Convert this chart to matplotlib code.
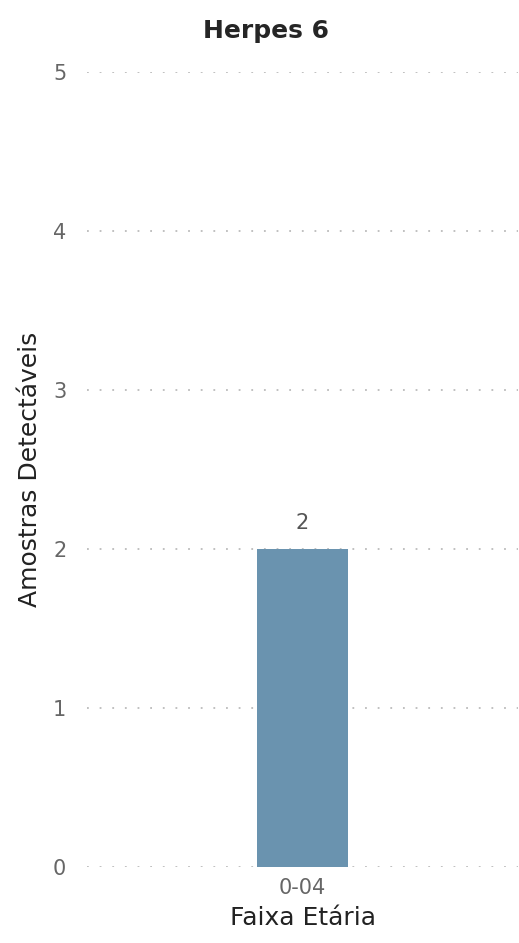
import matplotlib.pyplot as plt

plt.rcParams["font.family"] = ["DejaVu Sans"]

# data
categories = ["0-04"]
values = [2]
bar_color = "#6A93AF"

fig = plt.figure(figsize=(5.19, 9.43), dpi=100)
ax = fig.add_axes([0.168, 0.0806, 0.83, 0.843])

ax.bar(range(len(categories)), values, width=0.21, color=bar_color, zorder=3)
for i, v in enumerate(values):
    ax.text(i, v + 0.1, str(v), ha="center", va="bottom", fontsize=15, color="#555555")

ax.set_xlim(-0.5, 0.5)
ax.set_ylim(0, 5)
ax.set_yticks(range(6))
ax.set_xticks(range(len(categories)))
ax.set_xticklabels(categories)
ax.tick_params(axis="both", length=0, labelsize=15, labelcolor="#666666")
ax.tick_params(axis="y", pad=15)
ax.tick_params(axis="x", pad=8)
ax.grid(axis="y", linestyle=(0, (1, 6)), color="#BBBBBB", linewidth=1.3, zorder=0)
for s in ax.spines.values():
    s.set_visible(False)

fig.text(266 / 519, 1 - 31 / 943, "Herpes 6", fontsize=18, fontweight="bold",
         color="#252525", ha="center", va="center")
ax.set_ylabel("Amostras Detectáveis", fontsize=18, color="#222222", labelpad=8)
ax.set_xlabel("Faixa Etária", fontsize=18, color="#222222", labelpad=6)

fig.savefig("out.png", dpi=100)
